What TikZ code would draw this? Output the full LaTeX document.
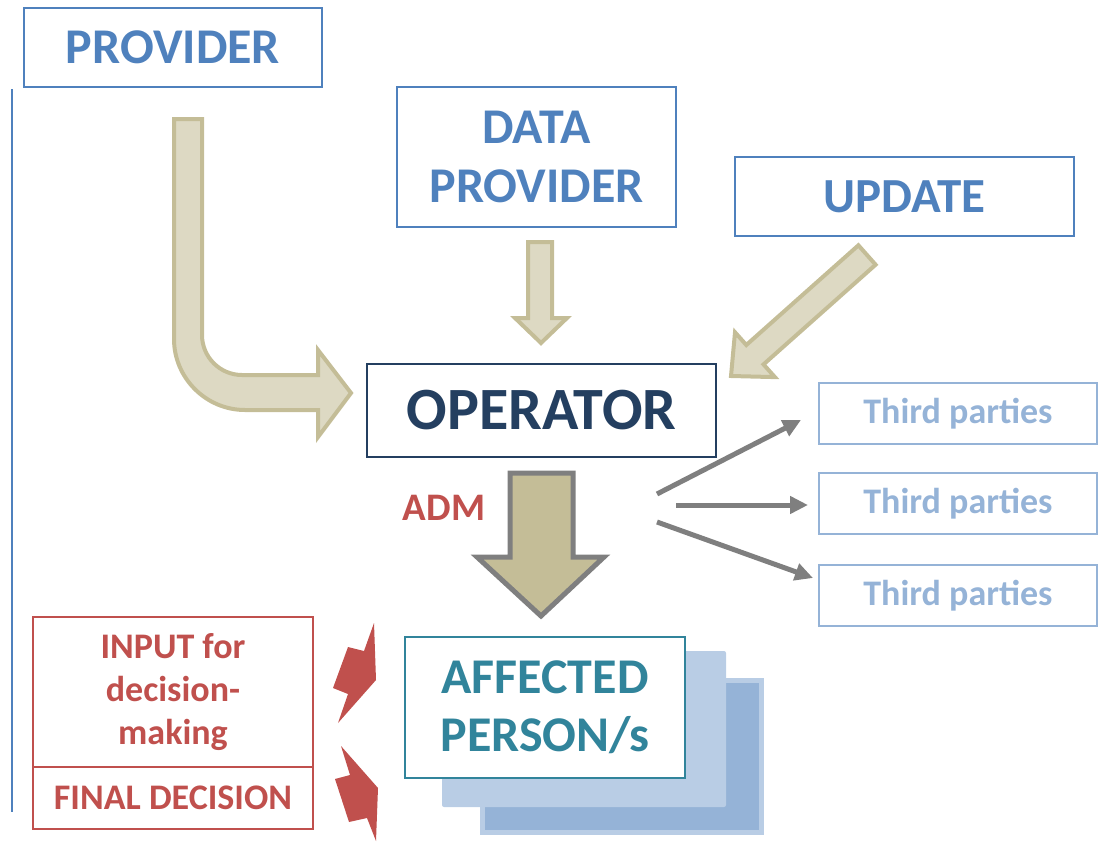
\documentclass[tikz,border=0pt]{standalone}
\usepackage{fontspec}
\setmainfont{Carlito}
\usetikzlibrary{arrows.meta}

\definecolor{provblue}{HTML}{4F81BD}
\definecolor{opnavy}{HTML}{243F60}
\definecolor{lightblue}{HTML}{95B3D7}
\definecolor{paleblue}{HTML}{B9CDE5}
\definecolor{tealc}{HTML}{31849B}
\definecolor{redc}{HTML}{C0504D}
\definecolor{tanfill}{HTML}{DDD9C3}
\definecolor{tanline}{HTML}{C4BD97}
\definecolor{greyc}{HTML}{7F7F7F}

\tikzset{
  box/.style={draw, line width=2pt, inner sep=0pt, align=center, font=\bfseries},
  lightarrow/.style={fill=tanfill, draw=tanline, line width=4pt, line join=miter},
  bigarrow/.style={fill=tanline, draw=greyc, line width=5pt, line join=miter},
  bolt/.style={fill=redc, draw=none},
  fanout/.style={draw=greyc, line width=5pt, -{Triangle[length=18pt,width=17pt]}},
}

\begin{document}
\begin{tikzpicture}[x=1pt, y=-1pt]
\useasboundingbox (0,0) rectangle (1099,843);

% left margin rule
\draw[provblue, line width=2pt] (12,89) -- (12,812);

% top row
\node[box, draw=provblue, text=provblue, minimum width=298pt, minimum height=79pt,
      font=\bfseries\fontsize{50}{60}\selectfont] (provider) at (173,47.5) {PROVIDER};
\node[box, draw=provblue, text=provblue, minimum width=279pt, minimum height=140pt,
      font=\bfseries\fontsize{50}{59}\selectfont] (dataprov) at (536.5,157) {DATA\\PROVIDER};
\node[box, draw=provblue, text=provblue, minimum width=339pt, minimum height=79pt,
      font=\bfseries\fontsize{49}{58}\selectfont] (update) at (904.5,196.5) {UPDATE};

% operator
\node[box, draw=opnavy, text=opnavy, minimum width=349pt, minimum height=93pt,
      font=\bfseries\fontsize{60}{70}\selectfont] (operator) at (541.5,410.5) {OPERATOR};

% third parties
\foreach \i/\yy in {1/413.5, 2/503.5, 3/595.5}
  \node[box, draw=lightblue, text=lightblue, minimum width=278pt, minimum height=61pt,
        font=\bfseries\fontsize{36}{43}\selectfont] (third\i) at (958,\yy) {Third parties};

% bent arrow from provider to operator
\draw[lightarrow] (174,119) -- (202,119) -- (202,335)
  .. controls (202,357) and (220,375) .. (242,375) -- (318,375) -- (318,350)
  -- (351,393) -- (318,437) -- (318,410) -- (245,410)
  .. controls (206,410) and (174,378) .. (174,339) -- cycle;

% straight arrow from data provider
\draw[lightarrow] (528,242) -- (552,242) -- (552,318) -- (567,318) -- (541,343)
  -- (515,318) -- (528,318) -- cycle;

% diagonal arrow from update
\draw[lightarrow] (875.6,264.7) -- (763.5,364.4) -- (774.9,377.1) -- (731,376)
  -- (735,332.3) -- (746.3,345.0) -- (858.4,245.3) -- cycle;

% ADM arrow
\draw[bigarrow] (510,473) -- (573,473) -- (573,557) -- (604,557) -- (541,616)
  -- (477,557) -- (510,557) -- cycle;
\node[text=redc, font=\bfseries\fontsize{39}{46}\selectfont] (adm) at (444,508) {ADM};

% fan-out to third parties
\coordinate (s1) at (657,494);
\coordinate (t1) at (801,420);
\coordinate (s2) at (676,505);
\coordinate (t2) at (808,505);
\coordinate (s3) at (657,522);
\coordinate (t3) at (813,578);
\draw[fanout] (s1) -- (t1);
\draw[fanout] (s2) -- (t2);
\draw[fanout] (s3) -- (t3);

% affected persons stack: back sheet, middle sheet, front box
\draw[fill=lightblue, draw=paleblue, line width=5pt] (482.5,680.5) rectangle (761.5,832.5);
\fill[paleblue, rounded corners=2pt] (442,651) rectangle (726,807);
\node[box, draw=tealc, text=tealc, fill=white, minimum width=280pt, minimum height=141pt,
      font=\bfseries\fontsize{50}{58}\selectfont] (affected) at (545,707.5) {AFFECTED\\PERSON/s};

% decision boxes
\node[box, draw=redc, text=redc, minimum width=280pt, minimum height=150pt,
      font=\bfseries\fontsize{36}{43}\selectfont] (input) at (173,692) {INPUT for\\decision-\\making};
\node[box, draw=redc, text=redc, minimum width=280pt, minimum height=62pt,
      font=\bfseries\fontsize{36}{43}\selectfont] (final) at (173,798) {FINAL DECISION};

% lightning bolts
\fill[bolt] (374,623) -- (364,651) -- (348,647) -- (333,688) -- (348,694)
  -- (338,723) -- (376,680) -- cycle;
\fill[bolt] (341,746) -- (378,788) -- (376,841) -- (367,818) -- (349,822)
  -- (335,779) -- (350,775) -- cycle;
\end{tikzpicture}
\end{document}
